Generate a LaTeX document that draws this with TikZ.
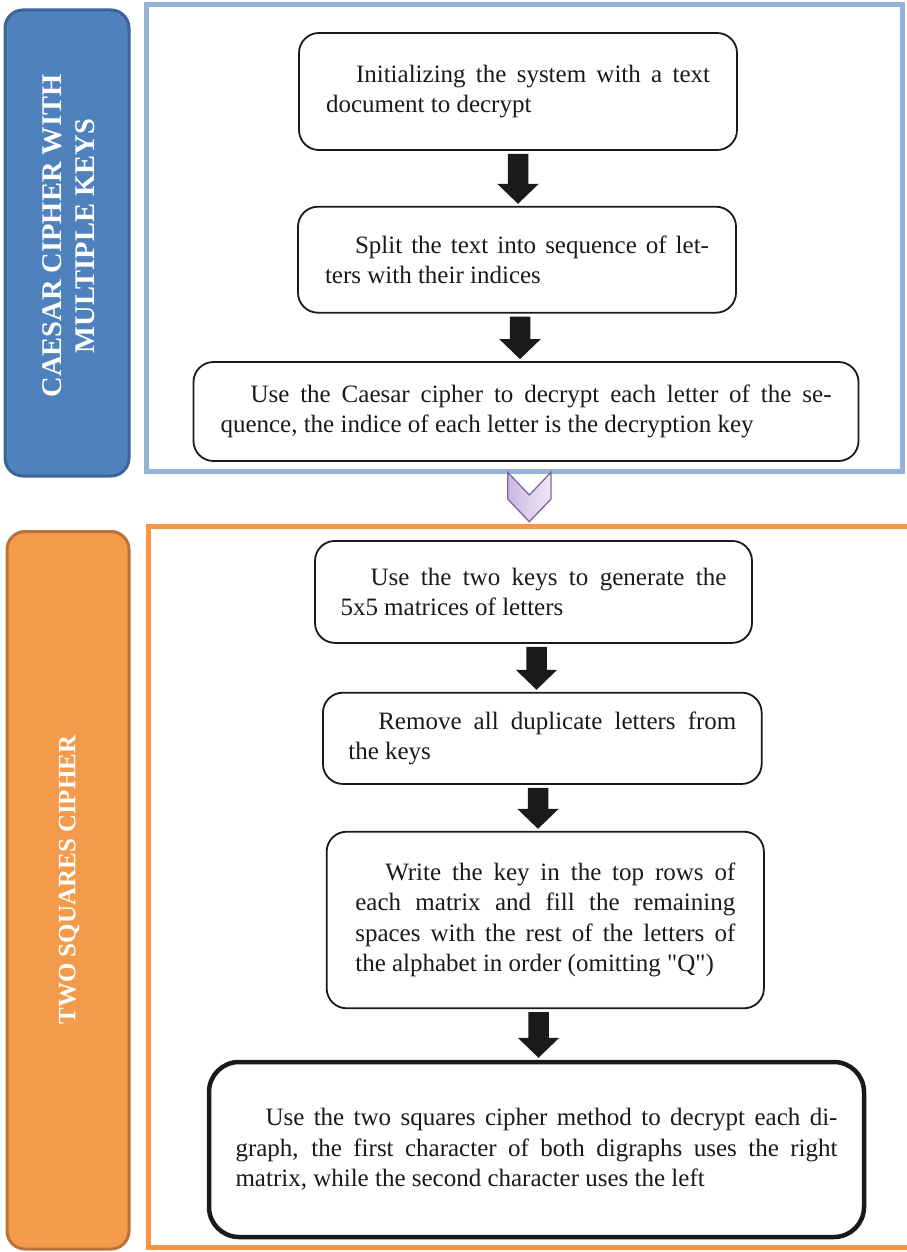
\documentclass[tikz,border=0pt]{standalone}
\usepackage{fontspec}
\setmainfont{Liberation Serif}
\usetikzlibrary{calc}

\definecolor{capfill}{HTML}{4F81BD}
\definecolor{capedge}{HTML}{3C6496}
\definecolor{capframe}{HTML}{95B3D7}
\definecolor{sqfill}{HTML}{F39A4B}
\definecolor{sqedge}{HTML}{B8743A}
\definecolor{sqframe}{HTML}{F79646}
\definecolor{chevedge}{HTML}{8064A2}
\definecolor{chevdark}{HTML}{C9B8E0}
\definecolor{chevlight}{HTML}{EFE9F6}
\definecolor{ink}{HTML}{1A1A1A}

\tikzset{
  stepbox/.style={draw=ink, line width=1.8pt, rounded corners=20pt, inner sep=0pt,
    align=justify, text=ink, font=\fontsize{25}{30.5}\selectfont,
    execute at begin node={\hspace*{30pt}}},
  finalbox/.style={stepbox, line width=4.5pt, rounded corners=30pt},
  titlebox/.style={rounded corners=18pt, line width=3pt},
  titletext/.style={rotate=90, align=center, text=white, inner sep=0pt},
  blockarrow/.style={fill=ink},
}

% thick block arrow from the bottom of #1 to the top of #2, centred at x = #3
\newcommand\blockarrow[3]{%
  \fill[blockarrow] let \p1=(#1.south), \p2=(#2.north), \p3=(#3,0) in
    (\x3-10.25pt,\y1-3pt) -- (\x3+10.25pt,\y1-3pt) -- (\x3+10.25pt,\y2+22pt)
    -- (\x3+20.75pt,\y2+22pt) -- (\x3,\y2+2pt) -- (\x3-20.75pt,\y2+22pt)
    -- (\x3-10.25pt,\y2+22pt) -- cycle;}

\begin{document}
\begin{tikzpicture}[x=1pt,y=-1pt]
\useasboundingbox[fill=white] (0,0) rectangle (906,1252);

% section frames
\draw[capframe, line width=5pt] (146.5,4.7) rectangle (902,471);
\draw[sqframe, line width=5pt] (148,526) rectangle (915,1247.5);

% section title bars
\draw[titlebox, fill=capfill, draw=capedge] (5,10) rectangle (129,476);
\node[titletext, font=\bfseries\fontsize{28.5}{33}\selectfont] (capt) at (68.5,236)
  {CAESAR CIPHER WITH\\MULTIPLE KEYS};
\draw[titlebox, fill=sqfill, draw=sqedge] (7,531.5) rectangle (129,1249);
\node[titletext, font=\bfseries\fontsize{25}{30}\selectfont] (sqt) at (69,880)
  {TWO SQUARES CIPHER};

% Caesar cipher steps
\node[stepbox, minimum width=438pt, minimum height=117pt, text width=384pt] (b1) at (518,91.5)
  {Initializing the system with a text\linebreak document to decrypt};
\node[stepbox, minimum width=438pt, minimum height=106pt, text width=384pt] (b2) at (517,259.7)
  {Split the text into sequence of let-\linebreak ters with their indices};
\node[stepbox, minimum width=665pt, minimum height=99pt, text width=611pt] (b3) at (526,411.5)
  {Use the Caesar cipher to decrypt each letter of the se-\linebreak quence, the indice of each letter is the decryption key};

% transition chevron between the sections
\draw[chevedge, line width=1.3pt, left color=chevdark, right color=chevlight]
  (507.7,472.3) -- (529.3,495) -- (551,472.3) -- (551,499) -- (529.3,521.7) -- (507.7,499) -- cycle;

% two squares cipher steps
\node[stepbox, minimum width=437pt, minimum height=102pt, text width=386pt] (b4) at (533.5,591.9)
  {Use the two keys to generate the\linebreak 5x5 matrices of letters};
\node[stepbox, minimum width=438.7pt, minimum height=91.3pt, text width=388pt] (b5) at (542.3,738.3)
  {Remove all duplicate letters from\linebreak the keys};
\node[stepbox, minimum width=437.3pt, minimum height=176.6pt, text width=380pt] (b6) at (545.3,920)
  {Write the key in the top rows of\linebreak each matrix and fill the remaining\linebreak spaces with the rest of the letters of\linebreak the alphabet in order (omitting \textquotedbl Q\textquotedbl)};
\node[finalbox, minimum width=655pt, minimum height=175pt, text width=602pt] (b7) at (536.5,1149.5)
  {Use the two squares cipher method to decrypt each di-\linebreak graph, the first character of both digraphs uses the right\linebreak matrix, while the second character uses the left};

% flow arrows
\blockarrow{b1}{b2}{518}
\blockarrow{b2}{b3}{520}
\blockarrow{b4}{b5}{536.5}
\blockarrow{b5}{b6}{538}
\blockarrow{b6}{b7}{538.5}
\end{tikzpicture}
\end{document}
